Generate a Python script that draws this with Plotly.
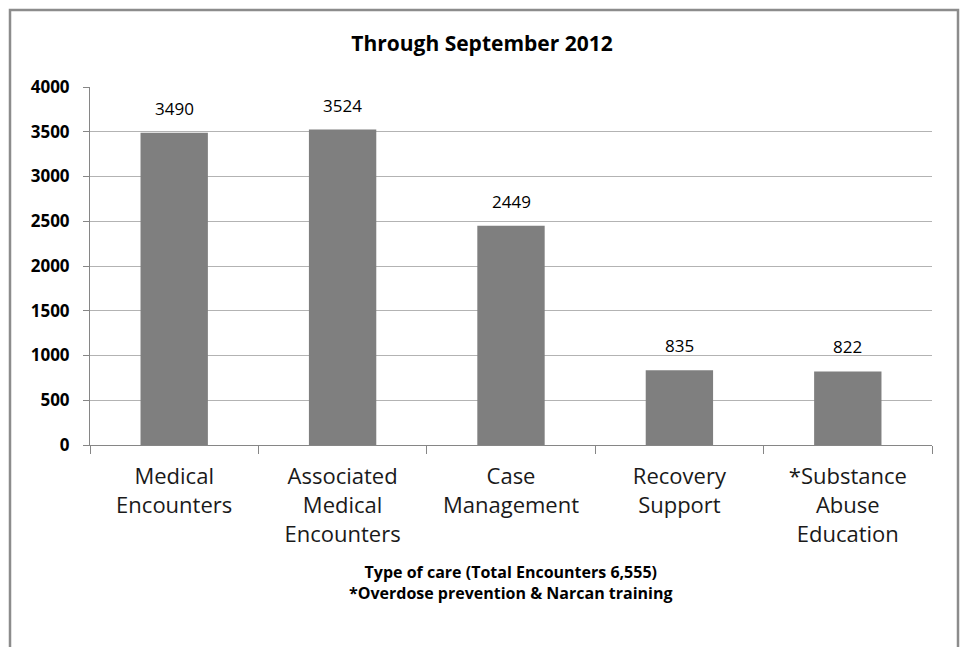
import plotly.graph_objects as go

categories = ["Medical<br>Encounters", "Associated<br>Medical<br>Encounters", "Case<br>Management",
              "Recovery<br>Support", "*Substance<br>Abuse<br>Education"]
values = [3490, 3524, 2449, 835, 822]
y_ticks = [0, 500, 1000, 1500, 2000, 2500, 3000, 3500, 4000]

W, H = 964, 647
L, R, T, B = 90, 32, 87, 202
pw, ph = W - L - R, H - T - B

def px_x(xs):
    return (xs - L) / pw

def px_y(ys):
    return (H - B - ys) / ph

font = "Open Sans, sans-serif"

fig = go.Figure(go.Bar(
    x=categories, y=values, width=0.4,
    marker=dict(color="#7f7f7f", line=dict(width=0)),
    hoverinfo="x+y",
))

for c, v in zip(categories, values):
    fig.add_annotation(x=c, y=v, text=str(v), showarrow=False, yanchor="bottom",
                       yshift=11, font=dict(family=font, size=17, color="#000000"))

fig.add_annotation(xref="paper", yref="paper", x=0.5, y=px_y(582), xanchor="center", yanchor="middle",
                   showarrow=False,
                   text="<b>Type of care (Total Encounters 6,555)<br>*Overdose prevention &amp; Narcan training</b>",
                   font=dict(family=font, size=16, color="#000000"))

fig.update_layout(
    width=W, height=H,
    margin=dict(l=L, r=R, t=T, b=B),
    paper_bgcolor="white", plot_bgcolor="white",
    showlegend=False,
    title=dict(text="<b>Through September 2012</b>", x=0.5, xanchor="center", xref="container",
               y=1 - 44 / H, yanchor="middle",
               font=dict(family=font, size=21, color="#000000")),
    bargap=0.6,
    xaxis=dict(
        type="category", tickson="boundaries", ticks="outside", ticklen=8, tickcolor="#868686",
        showline=True, linecolor="#868686", linewidth=1,
        tickfont=dict(family=font, size=22, color="#1a1a1a"),
        ticklabelstandoff=12,
    ),
    yaxis=dict(
        range=[0, 4000], tickvals=y_ticks, ticktext=[f"<b>{v}</b>" for v in y_ticks],
        showgrid=True, gridcolor="#b3b3b3", gridwidth=1,
        showline=True, linecolor="#868686", linewidth=1,
        ticks="outside", ticklen=6, tickcolor="#868686",
        zeroline=False,
        tickfont=dict(family=font, size=17, color="#000000"),
        ticklabelstandoff=10,
    ),
    shapes=[dict(type="rect", xref="paper", yref="paper",
                 x0=px_x(10), x1=px_x(958), y0=px_y(10), y1=px_y(720),
                 line=dict(color="#8c8c8c", width=2.5), fillcolor="rgba(0,0,0,0)", layer="below")],
)

fig.write_html("out.html", config={"displayModeBar": False},
               post_script="document.body.style.margin='0';document.body.style.overflow='hidden';")
